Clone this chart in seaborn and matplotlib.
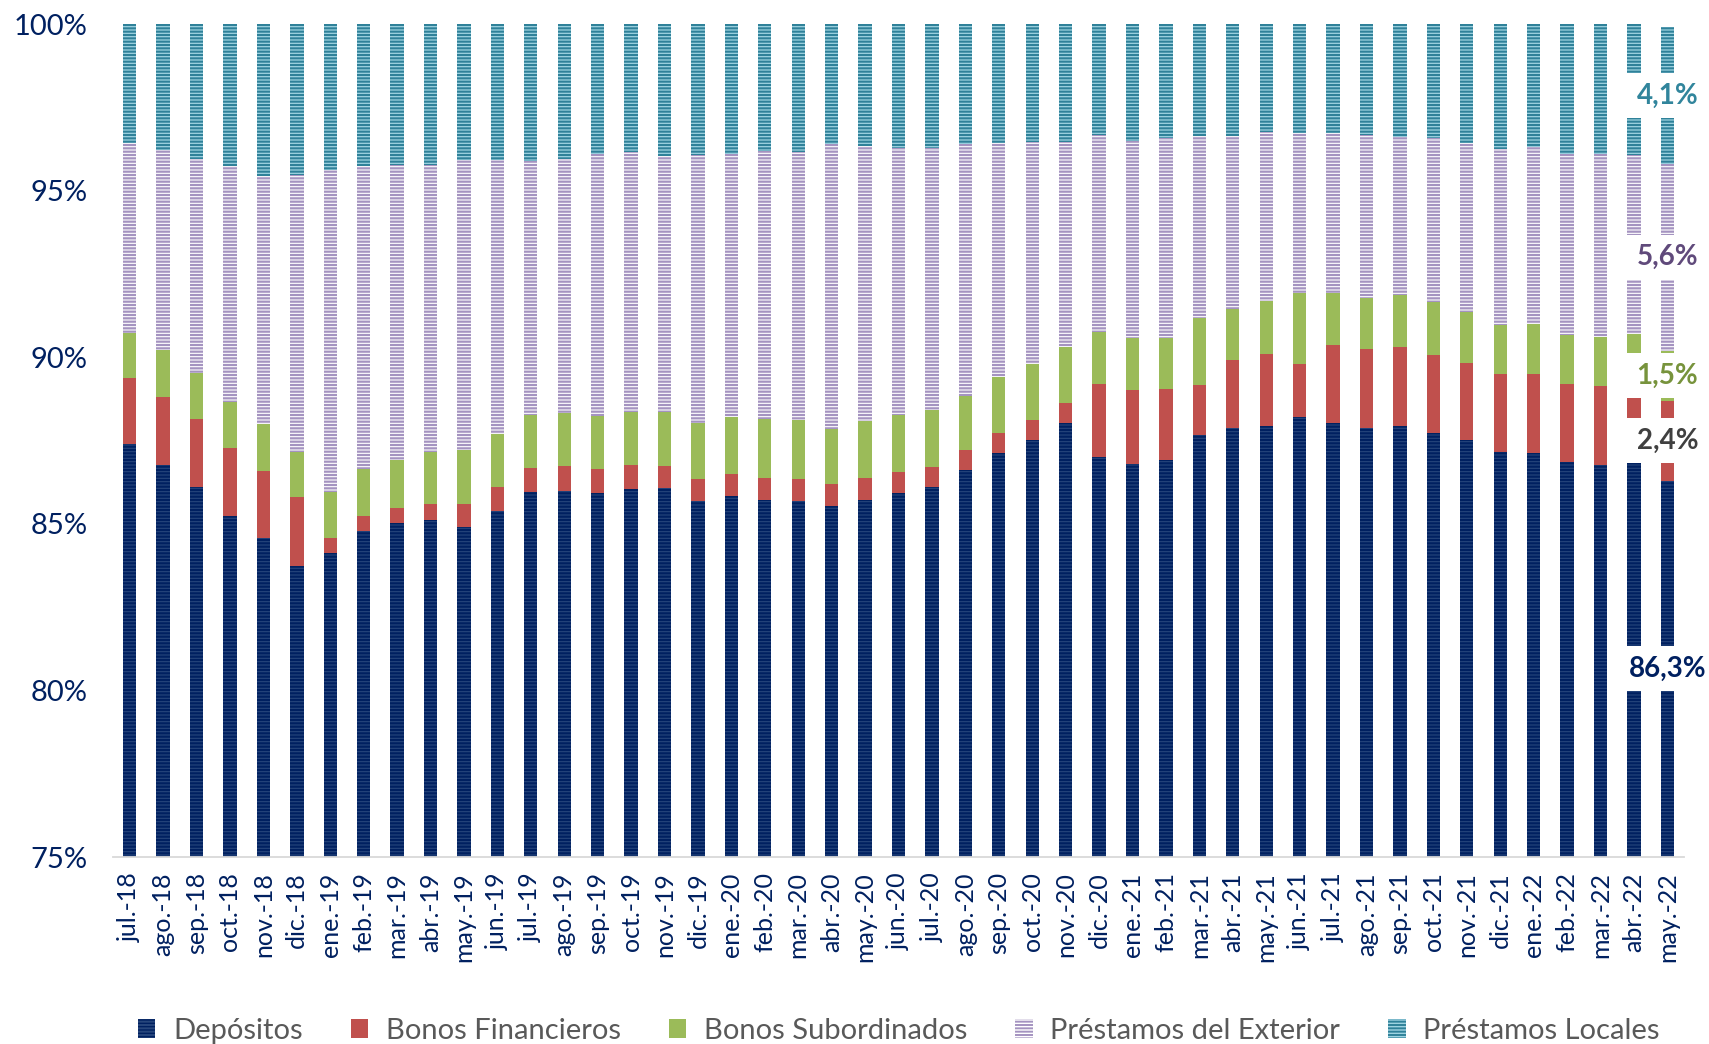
import numpy as np
import pandas as pd
import matplotlib
matplotlib.use("Agg")
import matplotlib.pyplot as plt
from matplotlib.patches import Patch
import seaborn as sns

# Monthly funding structure (share of total, %)
months = [
    "jul.-18", "ago.-18", "sep.-18", "oct.-18", "nov.-18", "dic.-18",
    "ene.-19", "feb.-19", "mar.-19", "abr.-19", "may.-19", "jun.-19",
    "jul.-19", "ago.-19", "sep.-19", "oct.-19", "nov.-19", "dic.-19",
    "ene.-20", "feb.-20", "mar.-20", "abr.-20", "may.-20", "jun.-20",
    "jul.-20", "ago.-20", "sep.-20", "oct.-20", "nov.-20", "dic.-20",
    "ene.-21", "feb.-21", "mar.-21", "abr.-21", "may.-21", "jun.-21",
    "jul.-21", "ago.-21", "sep.-21", "oct.-21", "nov.-21", "dic.-21",
    "ene.-22", "feb.-22", "mar.-22", "abr.-22", "may.-22",
]

depositos = [87.39, 86.76, 86.09, 85.24, 84.57, 83.74, 84.11, 84.77, 85.02, 85.11,
             84.90, 85.38, 85.95, 85.99, 85.93, 86.05, 86.06, 85.69, 85.84, 85.72,
             85.69, 85.52, 85.72, 85.92, 86.10, 86.62, 87.13, 87.51, 88.02, 87.01,
             86.79, 86.91, 87.68, 87.87, 87.94, 88.22, 88.02, 87.87, 87.94, 87.74,
             87.53, 87.16, 87.14, 86.87, 86.76, 86.85, 86.3]

bonos_financieros = [1.98, 2.05, 2.05, 2.03, 2.03, 2.05, 0.46, 0.46, 0.44, 0.49,
                     0.68, 0.71, 0.72, 0.74, 0.71, 0.71, 0.68, 0.67, 0.67, 0.67,
                     0.67, 0.67, 0.66, 0.64, 0.60, 0.60, 0.59, 0.60, 0.61, 2.18,
                     2.23, 2.15, 1.49, 2.05, 2.15, 1.59, 2.36, 2.37, 2.36, 2.32,
                     2.31, 2.33, 2.36, 2.32, 2.38, 2.32, 2.4]

bonos_subordinados = [1.36, 1.40, 1.40, 1.40, 1.41, 1.38, 1.38, 1.41, 1.47, 1.55,
                      1.64, 1.62, 1.60, 1.61, 1.61, 1.59, 1.61, 1.67, 1.69, 1.75,
                      1.75, 1.67, 1.70, 1.72, 1.72, 1.63, 1.69, 1.68, 1.67, 1.56,
                      1.56, 1.52, 2.01, 1.52, 1.59, 2.13, 1.55, 1.55, 1.57, 1.59,
                      1.52, 1.49, 1.49, 1.49, 1.47, 1.52, 1.5]

prestamos_exterior = [5.71, 6.01, 6.41, 7.08, 7.44, 8.31, 9.68, 9.11, 8.85, 8.62,
                      8.70, 8.21, 7.62, 7.62, 7.85, 7.80, 7.69, 8.05, 7.91, 8.05,
                      8.05, 8.54, 8.25, 8.01, 7.87, 7.56, 7.01, 6.67, 6.17, 5.92,
                      5.92, 5.99, 5.46, 5.21, 5.08, 4.80, 4.79, 4.89, 4.75, 4.92,
                      5.08, 5.28, 5.31, 5.41, 5.48, 5.38, 5.6]

prestamos_locales = [3.56, 3.78, 4.05, 4.24, 4.54, 4.53, 4.37, 4.24, 4.22, 4.22,
                     4.08, 4.08, 4.10, 4.05, 3.90, 3.85, 3.97, 3.93, 3.90, 3.82,
                     3.85, 3.61, 3.67, 3.70, 3.70, 3.59, 3.59, 3.55, 3.53, 3.32,
                     3.49, 3.44, 3.36, 3.36, 3.24, 3.26, 3.28, 3.32, 3.38, 3.44,
                     3.56, 3.74, 3.70, 3.90, 3.91, 3.93, 4.1]

ytick_values = [75, 80, 85, 90, 95, 100]
ytick_labels = ["75%", "80%", "85%", "90%", "95%", "100%"]

# (name, values, face colour, hatch colour, hatch, hatch width, label colour) bottom to top
layers = [
    ("Depósitos", depositos, "#002060", "#27467c", "-----", 0.8, "#002060"),
    ("Bonos Financieros", bonos_financieros, "#c0504d", "#c0504d", None, 1.0, "#404040"),
    ("Bonos Subordinados", bonos_subordinados, "#9bbb59", "#9bbb59", None, 1.0, "#77933c"),
    ("Préstamos del Exterior", prestamos_exterior, "#ffffff", "#a493c0", "-----", 1.6, "#604a7b"),
    ("Préstamos Locales", prestamos_locales, "#9ed3e1", "#2f8199", "-----", 1.5, "#31859c"),
]

sns.set_style("white")
plt.rcParams["font.family"] = ["Lato", "DejaVu Sans"]
plt.rcParams["hatch.linewidth"] = 1.4

NAVY = "#002060"
fig = plt.figure(figsize=(17.09, 10.44), dpi=100)
ax = fig.add_axes([0.0661, 0.1791, 0.9193, 0.7979])

cum = np.cumsum(np.array([l[1] for l in layers], dtype=float), axis=0)

# draw cumulative heights from the top layer down so each covers the one above
for i in range(len(layers) - 1, -1, -1):
    name, vals, face, hcol, hatch, hlw, _ = layers[i]
    df = pd.DataFrame({"mes": months, "valor": cum[i]})
    sns.barplot(data=df, x="mes", y="valor", color=face, saturation=1,
                width=0.4, errorbar=None, ax=ax)
    for p in ax.containers[-1]:
        p.set_facecolor(face)
        p.set_edgecolor(hcol)
        p.set_linewidth(0)
        if hatch:
            p.set_hatch(hatch)
            if hasattr(p, "set_hatch_linewidth"):
                p.set_hatch_linewidth(hlw)

ax.set_ylim(75, 100)
ax.set_xlim(-0.5, len(months) - 0.5)
ax.set_xlabel("")
ax.set_ylabel("")
ax.set_yticks(ytick_values)
ax.set_yticklabels(ytick_labels)
ax.tick_params(axis="y", length=0, pad=18, labelsize=21, labelcolor=NAVY)
ax.tick_params(axis="x", which="major", length=0, pad=11, labelsize=18,
               labelcolor=NAVY, rotation=90)
ax.set_xticks(np.arange(-0.5, len(months), 1), minor=True)
ax.tick_params(axis="x", which="minor", length=6, width=1.2, color="#d9d9d9")
for s in ["top", "right", "left"]:
    ax.spines[s].set_visible(False)
ax.spines["bottom"].set_color("#d9d9d9")
ax.spines["bottom"].set_linewidth(1.3)
ax.grid(False)

# value labels on the latest month
last = len(months) - 1
lo_prev = 0.0
for i, (name, vals, face, hcol, hatch, hlw, tcol) in enumerate(layers):
    top = cum[i][last]
    bottom = max(lo_prev, 75)
    mid = (bottom + top) / 2
    txt = f"{vals[last]:.1f}".replace(".", ",") + "%"
    ax.text(last, mid, txt, ha="center", va="center", fontsize=20,
            fontweight="bold", color=tcol, zorder=10,
            bbox=dict(facecolor="white", edgecolor="none",
                      boxstyle="square,pad=0.35"))
    lo_prev = top

handles = [Patch(facecolor=l[2], edgecolor=l[3], hatch=l[4], linewidth=0, label=l[0])
           for l in layers]
fig.legend(handles=handles, loc="center", bbox_to_anchor=(0.526, 0.0125), ncol=5,
           frameon=False, fontsize=21, labelcolor="#595959", handlelength=0.6,
           handleheight=0.6, handletextpad=0.6, columnspacing=1.65)

fig.savefig("out.png", dpi=100)
